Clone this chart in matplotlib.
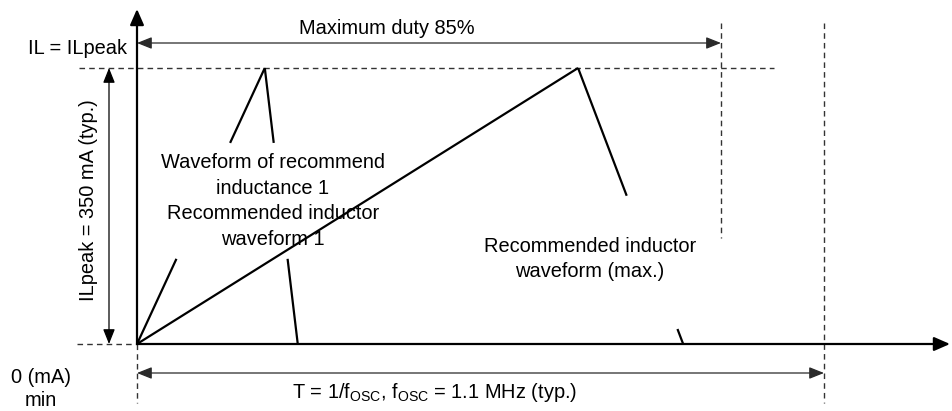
import matplotlib
matplotlib.use("Agg")
import matplotlib.pyplot as plt

plt.rcParams['font.family'] = ['Liberation Sans', 'DejaVu Sans']
plt.rcParams['mathtext.fontset'] = 'custom'
plt.rcParams['mathtext.rm'] = 'Liberation Sans'

# data: time in units of the period T, current in mA
period = 1.0
duty_max = 0.85
il_peak = 350
small_t = [0, 0.186, 0.234]
small_i = [0, 350, 0]
max_t = [0, 0.642, 0.795]
max_i = [0, 350, 0]

# reference pixel -> data (origin at px 137,344; T = 687 px; 350 mA = 276 px)
X0, Y0, SX, SY = 137, 344, 687.0, 276.0 / 350


def P(x, y):
    return ((x - X0) / SX, (Y0 - y) / SY)


fig = plt.figure(figsize=(9.53, 4.11), dpi=100)
ax = fig.add_axes([0, 0, 1, 1])
ax.set_xlim(P(0, 0)[0], P(953, 0)[0])
ax.set_ylim(P(0, 411)[1], P(0, 0)[1])
ax.axis('off')

FS = 14.4
dash = dict(color='#333333', lw=1.0, linestyle=(0, (4, 3)), zorder=1)

# guide lines
ax.plot([P(79, 0)[0], P(774, 0)[0]], [il_peak, il_peak], **dash)
ax.plot([P(77, 0)[0], 0], [0, 0], **dash)
ax.plot([0, 0], [0, P(0, 403)[1]], **dash)
ax.plot([duty_max * period] * 2, [P(0, 23)[1], P(0, 238)[1]], **dash)
ax.plot([period] * 2, [P(0, 23)[1], P(0, 403)[1]], **dash)


def arrow(p0, p1, style, lw, color, scale=12):
    ax.annotate('', xy=p1, xytext=p0,
                arrowprops=dict(arrowstyle=style, lw=lw, color=color,
                                shrinkA=0, shrinkB=0, mutation_scale=scale),
                zorder=3)


# main axes
arrow((0, 0), (P(950, 0)[0], 0), '-|>,head_length=0.8,head_width=0.35', 1.6, 'black')
arrow((0, 0), (0, P(0, 9)[1]), '-|>,head_length=0.8,head_width=0.35', 1.6, 'black')

# dimension arrows
dim = '<|-|>,head_length=0.75,head_width=0.3'
arrow((0, P(0, 43)[1]), (duty_max * period, P(0, 43)[1]), dim, 0.9, '#2a2a2a')
arrow((0, P(0, 373)[1]), (period, P(0, 373)[1]), dim, 0.9, '#2a2a2a')
arrow((P(109, 0)[0], 0), (P(109, 0)[0], il_peak), dim, 0.9, 'black')


def draw_wave(ts, cs, gaps):
    # gaps: per segment, a (lo, hi) current band hidden behind a label, or None
    for k in range(len(ts) - 1):
        t0, t1, c0, c1 = ts[k], ts[k + 1], cs[k], cs[k + 1]
        gap = gaps[k]
        if gap is None:
            pieces = [((t0, c0), (t1, c1))]
        else:
            at = lambda c: t0 + (c - c0) / (c1 - c0) * (t1 - t0)
            lo, hi = gap
            if c1 > c0:
                pieces = [((t0, c0), (at(lo), lo)), ((at(hi), hi), (t1, c1))]
            else:
                pieces = [((t0, c0), (at(hi), hi)), ((at(lo), lo), (t1, c1))]
        for a, b in pieces:
            ax.plot([a[0], b[0]], [a[1], b[1]], color='black', lw=1.6,
                    solid_capstyle='butt', zorder=4)


draw_wave(small_t, small_i, [(108, 255), (108, 255)])
draw_wave(max_t, max_i, [None, (19, 188)])

# labels
ax.text(*P(387, 28), 'Maximum duty 85%', fontsize=FS, ha='center', va='center')
ax.text(*P(127, 48), 'IL = ILpeak', fontsize=FS, ha='right', va='center')
ax.text(*P(41, 389), '0 (mA)\nmin', fontsize=FS, ha='center', va='center',
        linespacing=1.25)
ax.text(*P(88, 200), 'ILpeak = 350 mA (typ.)', fontsize=FS, ha='center',
        va='center', rotation=90)
ax.text(*P(273, 201), 'Waveform of recommend\ninductance 1\nRecommended inductor\nwaveform 1',
        fontsize=FS, ha='center', va='center', linespacing=1.45, zorder=2)
ax.text(*P(590, 259), 'Recommended inductor\nwaveform (max.)', fontsize=FS,
        ha='center', va='center', linespacing=1.45)
ax.text(*P(435, 392), r'T = 1/f$_\mathrm{OSC}$, f$_\mathrm{OSC}$ = 1.1 MHz (typ.)',
        fontsize=FS, ha='center', va='center')

fig.savefig('out.png', dpi=100)
